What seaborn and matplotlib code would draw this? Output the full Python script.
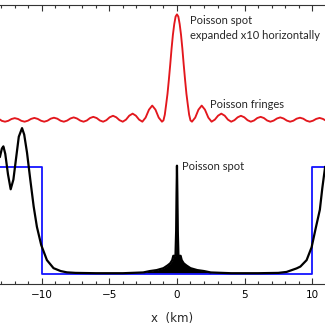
import numpy as np
import pandas as pd
import matplotlib
matplotlib.use("Agg")
import matplotlib.pyplot as plt
import seaborn as sns

sns.set_style("white")
plt.rcParams['font.family'] = ['DejaVu Sans']

# ---- data (x in km, intensity relative to unobstructed) ----
# blue: geometric shadow of the disk
blue_x = [-13.1, -10.0, -10.0, 10.0, 10.0, 11.0]
blue_y = [1.0, 1.0, 0.0, 0.0, 1.0, 1.0]

# black: diffraction intensity profile (outer curve / envelope)
black_x = [-13.1, -12.95, -12.84, -12.7, -12.5, -12.3, -12.1, -11.9, -11.7, -11.46,
           -11.3, -11.09, -10.85, -10.6, -10.36, -10.04, -9.62, -9.13, -8.6, -8.14,
           -7.5, -6.0, -4.0, -2.5, -2.0, -1.5, -1.0, -0.7, -0.5, -0.35, -0.27,
           -0.11, -0.06, -0.03, 0.0, 0.03, 0.06, 0.11,
           0.27, 0.35, 0.5, 0.7, 1.0, 1.5, 2.0, 2.5, 4.0, 6.0, 7.5, 8.11,
           8.85, 9.13, 9.59, 9.96, 10.25, 10.57, 10.75, 10.96]
black_y = [1.09, 1.17, 1.19, 1.12, 0.93, 0.79, 0.88, 1.08, 1.28, 1.36,
           1.30, 1.13, 0.88, 0.63, 0.44, 0.27, 0.13, 0.055, 0.028, 0.016,
           0.011, 0.008, 0.008, 0.015, 0.028, 0.037, 0.055, 0.08, 0.10, 0.13, 0.17,
           0.17, 0.40, 0.75, 1.01, 0.75, 0.40, 0.17,
           0.17, 0.13, 0.10, 0.08, 0.055, 0.037, 0.028, 0.015, 0.008, 0.008, 0.011, 0.02,
           0.053, 0.07, 0.13, 0.25, 0.42, 0.60, 0.80, 1.0]

# red: Poisson spot profile expanded x10 horizontally
red_x = [-13.09, -12.96, -12.72, -12.48, -12.24, -12.0, -11.75, -11.51, -11.27,
         -11.03, -10.79, -10.55, -10.30, -10.06, -9.82,
         -9.58, -9.34, -9.10, -8.85, -8.61, -8.37,
         -8.13, -7.88, -7.64, -7.40, -7.15, -6.91,
         -6.67, -6.43, -6.19, -5.94, -5.70, -5.46,
         -5.22, -4.98, -4.73, -4.49, -4.25, -4.01,
         -3.77, -3.53, -3.28, -3.04, -2.80, -2.56,
         -2.32, -2.07, -1.83, -1.59, -1.35, -1.11,
         -1.0, -0.9, -0.8, -0.7, -0.6, -0.5, -0.4, -0.3, -0.2, -0.1, 0.0,
         0.1, 0.2, 0.3, 0.4, 0.5, 0.6, 0.7, 0.8, 0.9, 1.0,
         1.11, 1.35, 1.59, 1.83, 2.07, 2.32, 2.56,
         2.80, 3.04, 3.28, 3.53, 3.77, 4.01,
         4.25, 4.49, 4.73, 4.98, 5.22, 5.46,
         5.70, 5.94, 6.19, 6.43, 6.67, 6.91,
         7.15, 7.40, 7.64, 7.88, 8.13, 8.37,
         8.61, 8.85, 9.10, 9.34, 9.58, 9.82,
         10.06, 10.30, 10.55, 10.79, 11.03]
red_y = [0.02, 0.008, 0.0, 0.008, 0.025, 0.033, 0.025, 0.008, 0.0,
         0.009, 0.026, 0.035, 0.026, 0.009, 0.0,
         0.009, 0.028, 0.037, 0.028, 0.009, 0.0,
         0.01, 0.03, 0.04, 0.03, 0.01, 0.0,
         0.011, 0.034, 0.045, 0.034, 0.011, 0.0,
         0.014, 0.041, 0.055, 0.041, 0.014, 0.0,
         0.019, 0.056, 0.075, 0.056, 0.019, 0.0,
         0.038, 0.112, 0.15, 0.112, 0.038, 0.0,
         0.012, 0.065, 0.16, 0.26, 0.39, 0.53, 0.68, 0.81, 0.91, 0.98, 1.0,
         0.98, 0.91, 0.81, 0.68, 0.53, 0.39, 0.26, 0.16, 0.065, 0.012,
         0.0, 0.038, 0.112, 0.15, 0.112, 0.038, 0.0,
         0.019, 0.056, 0.075, 0.056, 0.019, 0.0,
         0.014, 0.041, 0.055, 0.041, 0.014, 0.0,
         0.011, 0.034, 0.045, 0.034, 0.011, 0.0,
         0.01, 0.03, 0.04, 0.03, 0.01, 0.0,
         0.009, 0.028, 0.037, 0.028, 0.009, 0.0,
         0.009, 0.026, 0.035, 0.026, 0.009]
red_offset = 1.42

xticks = [-10, -5, 0, 5, 10]
xtick_labels = ["\u221210", "\u22125", "0", "5", "10"]

# ---- figure ----
fig = plt.figure(figsize=(3.25, 3.25), dpi=100)
ax = fig.add_axes([0.0, 0.126, 1.0, 0.8585])

df_blue = pd.DataFrame({"x": blue_x, "y": blue_y})
df_black = pd.DataFrame({"x": black_x, "y": black_y})
df_red = pd.DataFrame({"x": red_x, "y": np.array(red_y) + red_offset})

sns.lineplot(data=df_blue, x="x", y="y", sort=False, estimator=None,
             color="#1414ff", linewidth=1.3, ax=ax)
center = df_black[(df_black.x >= -2.5) & (df_black.x <= 2.5)]
ax.fill_between(center.x, 0.004, center.y, color="black", linewidth=0)
sns.lineplot(data=df_black, x="x", y="y", sort=False, estimator=None,
             color="black", linewidth=1.6, ax=ax)
sns.lineplot(data=df_red, x="x", y="y", sort=False, estimator=None,
             color="#e3171d", linewidth=1.35, ax=ax)

ax.set_xlim(-13.09, 10.95)
ax.set_ylim(-0.093, 2.507)
ax.set_yticks([])
ax.set_ylabel("")
ax.set_xticks(xticks)
ax.set_xticklabels(xtick_labels, fontsize=7.5)
ax.set_xticks(np.arange(-13, 11, 1), minor=True)
ax.tick_params(axis="x", which="both", direction="in", top=True, bottom=True,
               colors="#333333", labelcolor="black", width=0.8)
ax.tick_params(axis="x", which="major", length=4, pad=4)
ax.tick_params(axis="x", which="minor", length=2.2)
for s in ["left", "right"]:
    ax.spines[s].set_visible(False)
for s in ["top", "bottom"]:
    ax.spines[s].set_color("#333333")
    ax.spines[s].set_linewidth(0.8)
ax.set_xlabel("x  (km)", fontsize=8.5, labelpad=6)
ax.xaxis.set_label_coords(0.529, -0.10)

tf = ["Lato", "DejaVu Sans"]
ax.text(0.35, 1.007, "Poisson spot", fontsize=8, family=tf, va="center", ha="left")
ax.text(0.94, 2.362, "Poisson spot", fontsize=8, family=tf, va="center", ha="left")
ax.text(0.94, 2.227, "expanded x10 horizontally", fontsize=8, family=tf, va="center", ha="left")
ax.text(2.44, 1.58, "Poisson fringes", fontsize=8, family=tf, va="center", ha="left")

fig.savefig("out.png", dpi=100)
